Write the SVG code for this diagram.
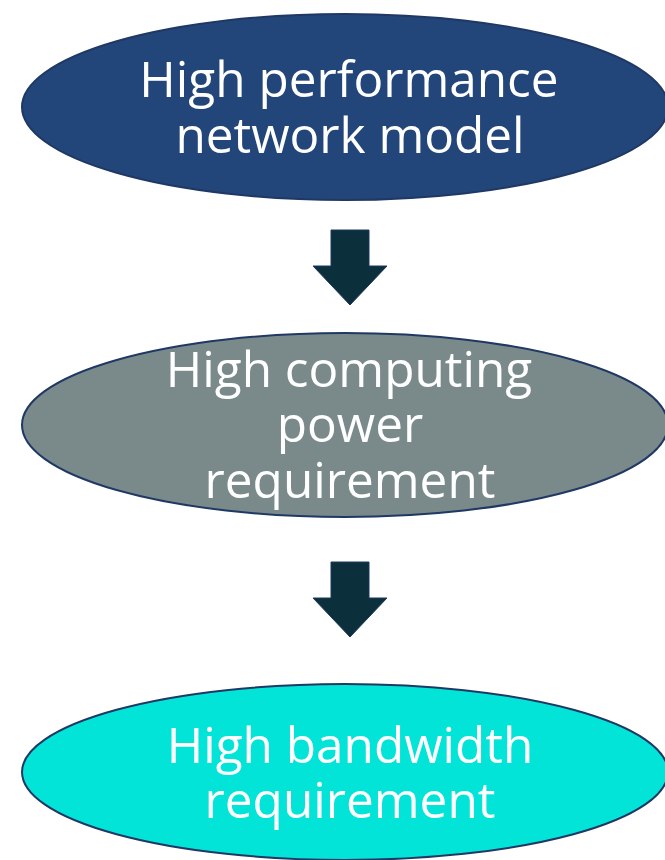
<svg xmlns="http://www.w3.org/2000/svg" width="665" height="860" viewBox="0 0 665 860">
  <defs>
    <style>
      .node { stroke: #1f3864; stroke-width: 2; }
      .label { font-family: "Open Sans", "Noto Sans", "Liberation Sans", sans-serif; font-size: 49.5px; fill: #ffffff; text-anchor: middle; }
      .arrow { fill: #0b2f3b; stroke: #1f3864; stroke-width: 1; }
    </style>
  </defs>
  <rect width="665" height="860" fill="#ffffff"/>

  <g id="node-model">
    <ellipse class="node" cx="345" cy="107" rx="323" ry="93" fill="#23467a"/>
    <text class="label" x="349" y="97">High performance</text>
    <text class="label" x="350" y="153">network model</text>
  </g>

  <g id="node-computing">
    <ellipse class="node" cx="345" cy="425" rx="323" ry="92" fill="#7a8a8b"/>
    <text class="label" x="349" y="387">High computing</text>
    <text class="label" x="350" y="442">power</text>
    <text class="label" x="350" y="498">requirement</text>
  </g>

  <g id="node-bandwidth">
    <ellipse class="node" cx="345" cy="772" rx="323" ry="88" fill="#03e4d9"/>
    <text class="label" x="350" y="763">High bandwidth</text>
    <text class="label" x="350" y="818">requirement</text>
  </g>

  <g id="connectors">
    <polygon class="arrow" points="331,230 369,230 369,266 387,266 350,305 313,266 331,266"/>
    <polygon class="arrow" points="331,562 369,562 369,598 387,598 350,637 313,598 331,598"/>
  </g>
</svg>
